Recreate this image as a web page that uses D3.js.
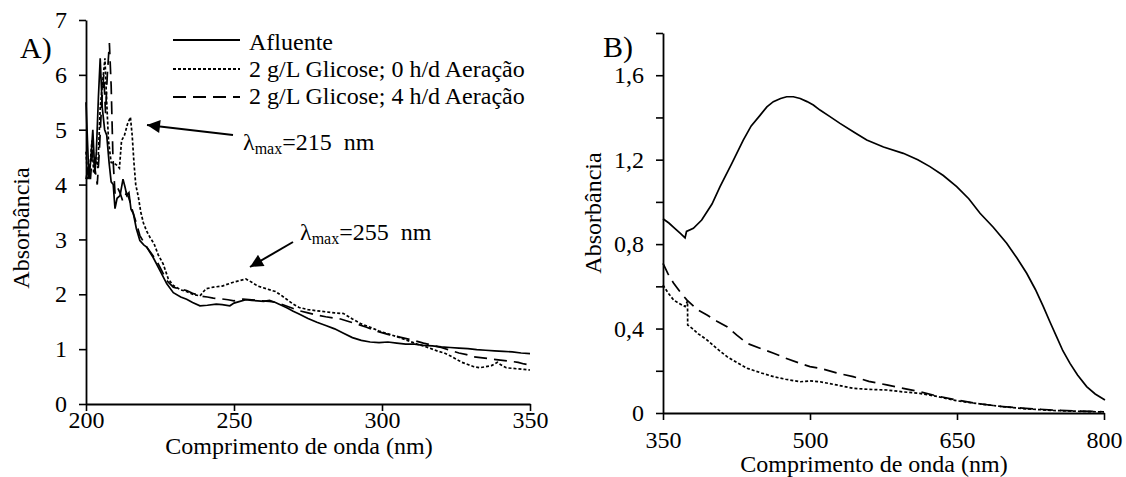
<!DOCTYPE html>
<html>
<head>
<meta charset="utf-8">
<script src="https://cdn.jsdelivr.net/npm/d3@7"></script>
<style>
  html, body { margin: 0; padding: 0; background: #fff; }
  svg { display: block; }
  text { font-family: "Liberation Serif", "Times New Roman", serif; fill: #000; }
</style>
</head>
<body>
<svg id="chart" width="1126" height="477"></svg>
<script>
// ---------- Panel A data (200–350 nm) ----------
const seriesNames = ["Afluente", "2 g/L Glicose; 0 h/d Aeração", "2 g/L Glicose; 4 h/d Aeração"];

const aWlAfluente = [200,200.5,201,201.7,202.3,203,203.5,204.2,204.8,205.5,206.3,207,207.8,208.5,209.2,209.8,210.5,211.5,212.5,213.2,213.8,214.5,215.2,216,217,218.2,219.5,220.5,222.7,225,227.3,229.5,232,234,236,238.5,241,244,246,248.6,250,252,254,256,258,260,262,264,266,268,270,272,275,278,281,284,287,290,293,296,299,302,305,308,311,314,317,320,323,326,329,332,335,338,341,344,347,350];
const aAbsAfluente = [5.5,4.8,4.1,4.5,5.0,4.2,4.6,5.6,6.3,5.4,5.0,4.9,4.4,4.05,4.0,3.56,3.75,3.8,4.1,3.95,3.8,3.85,3.55,3.47,3.2,2.98,2.9,2.86,2.67,2.43,2.19,2.03,1.95,1.91,1.85,1.79,1.80,1.82,1.81,1.79,1.84,1.87,1.90,1.89,1.88,1.87,1.89,1.85,1.80,1.75,1.69,1.64,1.56,1.49,1.43,1.37,1.29,1.21,1.16,1.13,1.12,1.13,1.11,1.09,1.09,1.07,1.06,1.04,1.03,1.02,1.01,0.99,0.98,0.97,0.96,0.95,0.93,0.92];

const aWlGlic0 = [200,200.6,201.3,202,202.6,203.3,204,204.8,205.5,206.4,207,207.6,208.5,209.5,210.5,211.3,212,213,214,215,215.6,216.2,216.8,217.7,218.5,219.4,220.5,221.6,223,224.4,226.1,227.8,229.5,232,234,236,238.5,240.5,243,246,249.8,252,254,256,258,261,264,266,268,270,272,275,278,281,284,287,290,293,296,299,302,306,309,312,315,317,319,321,323,325,327,329,331,333,335,337,339,340,342,344,346,348,350];
const aAbsGlic0 = [4.6,4.1,4.3,4.8,4.2,4.5,4.3,5.4,5.8,6.3,5.5,4.8,4.4,4.39,4.35,4.3,4.8,4.9,5.1,5.23,4.9,4.4,4.0,3.77,3.5,3.3,3.15,3.04,2.92,2.72,2.55,2.28,2.16,2.08,2.05,2.0,1.97,2.1,2.13,2.15,2.22,2.25,2.28,2.22,2.15,2.1,2.05,1.98,1.9,1.82,1.76,1.72,1.7,1.68,1.66,1.65,1.55,1.46,1.40,1.33,1.28,1.21,1.15,1.09,1.04,1.0,0.96,0.93,0.88,0.82,0.76,0.72,0.68,0.66,0.68,0.70,0.76,0.72,0.66,0.65,0.64,0.63,0.62];

const aWlGlic4 = [200,200.7,201.5,202.2,203,203.8,204.5,205.3,206,206.6,207.2,207.9,208.5,209.1,209.8,210.6,211.5,212.4,213.7,214.5,215.3,216,217,218.2,220.5,223.9,227.3,229.5,232,234,236,238.5,241,243,245.3,248,250,253,256,259,262,264.3,267,270,272,275,278,281,283.5,286,289,292,294.8,298,302,306,310,314,317,320,323,326,328.6,331,334,337,340,343,346,348,350];
const aAbsGlic4 = [4.1,4.3,4.1,4.6,4.3,4.0,4.6,5.5,6.0,5.3,6.0,6.58,5.8,4.5,3.84,3.95,3.85,3.7,3.85,3.75,3.6,3.47,3.3,3.07,2.86,2.61,2.25,2.13,2.09,2.07,2.02,1.97,1.95,1.93,1.92,1.90,1.88,1.91,1.90,1.88,1.87,1.85,1.80,1.74,1.70,1.66,1.62,1.59,1.57,1.55,1.50,1.45,1.40,1.33,1.27,1.22,1.17,1.11,1.07,1.03,0.98,0.93,0.90,0.86,0.84,0.82,0.80,0.78,0.76,0.73,0.71];

// ---------- Panel B data (350–800 nm) ----------
const bWlAfluente = [350,356,362,368,372.5,374,381,389.5,400,408.2,420,431.9,440,449,456,462.6,470,476.2,483,490,497,503.4,510.2,520,530.6,545,557.9,575,595.2,610,622.4,636,649.7,662,673.5,687,700.7,711,721.1,730,738.1,745,751.7,758,765.3,773,782.3,791,801];
const bAbsAfluente = [0.92,0.90,0.875,0.85,0.83,0.86,0.875,0.914,0.99,1.072,1.18,1.293,1.36,1.41,1.45,1.475,1.49,1.498,1.498,1.49,1.475,1.459,1.435,1.405,1.372,1.33,1.293,1.26,1.23,1.20,1.167,1.125,1.072,1.015,0.946,0.88,0.804,0.735,0.662,0.585,0.504,0.43,0.361,0.295,0.235,0.18,0.125,0.09,0.062];

const bWlGlic0 = [350,355,360.9,366,372.5,375,375.2,380,386,394.9,405,415.3,425,435.7,450,462.9,475,490,500,510.2,527,544,560,578.3,595,612,630,649.7,670,697,720,748,775,800];
const bAbsGlic0 = [0.606,0.57,0.535,0.52,0.504,0.53,0.417,0.40,0.375,0.346,0.305,0.267,0.24,0.212,0.19,0.172,0.16,0.148,0.152,0.148,0.133,0.117,0.112,0.109,0.10,0.093,0.078,0.058,0.045,0.03,0.02,0.012,0.008,0.005];

const bWlGlic4 = [350,355,360.9,368,374.5,385,394.9,405,415.3,425,435.7,450,462.9,475,490,500,510.2,527,544,560,578.3,595,612.2,630,649.7,670,697,720,748,775,799];
const bAbsGlic4 = [0.709,0.66,0.614,0.57,0.535,0.49,0.464,0.435,0.409,0.37,0.330,0.305,0.283,0.26,0.235,0.22,0.212,0.19,0.172,0.15,0.133,0.117,0.101,0.08,0.062,0.045,0.03,0.022,0.014,0.009,0.006];

// ---------- Axis ticks ----------
const aXTicks = [200, 250, 300, 350];
const aYTicks = [0, 1, 2, 3, 4, 5, 6, 7];
const bXTicks = [350, 500, 650, 800];
const bYTicks = [0, 0.2, 0.4, 0.6, 0.8, 1.0, 1.2, 1.4, 1.6, 1.8];
const bYLabels = ["0", "", "0,4", "", "0,8", "", "1,2", "", "1,6", ""];

const dashStyles = [null, "3,2", "13,7"];

const svg = d3.select("#chart");
const FONT = 24;

function drawPanel(cfg) {
  const x = d3.scaleLinear().domain(cfg.xDomain).range(cfg.xRange);
  const y = d3.scaleLinear().domain(cfg.yDomain).range(cfg.yRange);
  const g = svg.append("g");

  const xAxis = d3.axisBottom(x).tickValues(cfg.xTicks).tickSize(7).tickSizeOuter(0).tickPadding(cfg.xPad).tickFormat(d3.format("d"));
  const gx = g.append("g").attr("transform", `translate(0,${cfg.yRange[0]})`).call(xAxis);
  const yAxis = d3.axisLeft(y).tickValues(cfg.yTicks).tickSize(7).tickSizeOuter(0).tickPadding(12)
      .tickFormat((d, i) => cfg.yLabels ? cfg.yLabels[i] : String(d));
  const gy = g.append("g").attr("transform", `translate(${cfg.xRange[0]},0)`).call(yAxis);
  [gx, gy].forEach(a => {
    a.select(".domain").attr("stroke", "#000").attr("stroke-width", 1.8);
    a.selectAll(".tick line").attr("stroke", "#000").attr("stroke-width", 1.6);
    a.selectAll(".tick text").attr("font-size", FONT).attr("font-family", "Liberation Serif").attr("fill", "#000");
  });

  cfg.series.forEach((s, i) => {
    const pts = s.wl.map((w, k) => [w, s.abs[k]]);
    g.append("path")
      .datum(pts)
      .attr("fill", "none")
      .attr("stroke", "#000")
      .attr("stroke-width", 1.7)
      .attr("stroke-dasharray", dashStyles[i])
      .attr("d", d3.line().x(d => x(d[0])).y(d => y(d[1])));
  });

  g.append("text")
    .attr("x", cfg.xTitle[0]).attr("y", cfg.xTitle[1])
    .attr("text-anchor", "middle").attr("font-size", FONT)
    .text("Comprimento de onda (nm)");
  g.append("text")
    .attr("transform", `translate(${cfg.yTitle[0]},${cfg.yTitle[1]}) rotate(-90)`)
    .attr("text-anchor", "middle").attr("dominant-baseline", "central").attr("font-size", FONT)
    .text("Absorbância");
  g.append("text")
    .attr("x", cfg.tag[0]).attr("y", cfg.tag[1])
    .attr("font-size", 30).text(cfg.tagText);
  return { x, y, g };
}

drawPanel({
  xDomain: [200, 350], xRange: [86, 530],
  yDomain: [0, 7], yRange: [404, 20],
  xTicks: aXTicks, yTicks: aYTicks, xPad: 0,
  series: [
    { wl: aWlAfluente, abs: aAbsAfluente },
    { wl: aWlGlic0, abs: aAbsGlic0 },
    { wl: aWlGlic4, abs: aAbsGlic4 }
  ],
  xTitle: [299, 454], yTitle: [21, 228], tag: [20, 58], tagText: "A)"
});

drawPanel({
  xDomain: [350, 800], xRange: [663, 1104],
  yDomain: [0, 1.8], yRange: [413, 33],
  xTicks: bXTicks, yTicks: bYTicks, yLabels: bYLabels, xPad: 11,
  series: [
    { wl: bWlAfluente, abs: bAbsAfluente },
    { wl: bWlGlic0, abs: bAbsGlic0 },
    { wl: bWlGlic4, abs: bAbsGlic4 }
  ],
  xTitle: [874, 472], yTitle: [593, 213], tag: [603, 57], tagText: "B)"
});

// ---------- Legend (panel A) ----------
const legend = svg.append("g");
const legendLineY = [40, 69, 97];
const legendTextY = [50, 77, 104];
seriesNames.forEach((name, i) => {
  legend.append("line").attr("x1", 173).attr("x2", 240).attr("y1", legendLineY[i]).attr("y2", legendLineY[i])
    .attr("stroke", "#000").attr("stroke-width", 1.8).attr("stroke-dasharray", dashStyles[i]);
  legend.append("text").attr("x", 249).attr("y", legendTextY[i]).attr("font-size", FONT).text(name);
});

// ---------- Annotations ----------
const defs = svg.append("defs");
defs.append("marker").attr("id", "arrow").attr("viewBox", "0 0 10 10")
  .attr("refX", 10).attr("refY", 5).attr("markerWidth", 18).attr("markerHeight", 13)
  .attr("markerUnits", "userSpaceOnUse").attr("orient", "auto")
  .append("path").attr("d", "M0,0 L10,5 L0,10 Z").attr("fill", "#000");

function annotate(tx, ty, fromX, fromY, toX, toY, value) {
  svg.append("line").attr("x1", fromX).attr("y1", fromY).attr("x2", toX).attr("y2", toY)
    .attr("stroke", "#000").attr("stroke-width", 2)
    .attr("marker-end", "url(#arrow)");
  const t = svg.append("text").attr("x", tx).attr("y", ty).attr("font-size", 24);
  t.append("tspan").text("λ");
  t.append("tspan").attr("font-size", 16).attr("dy", 4).text("max");
  t.append("tspan").attr("dy", -4).text("=" + value + "\u00a0 nm");
}
annotate(243, 150, 233, 135, 147, 125, 215);
annotate(300, 240, 293, 242, 250, 267, 255);
</script>
</body>
</html>
